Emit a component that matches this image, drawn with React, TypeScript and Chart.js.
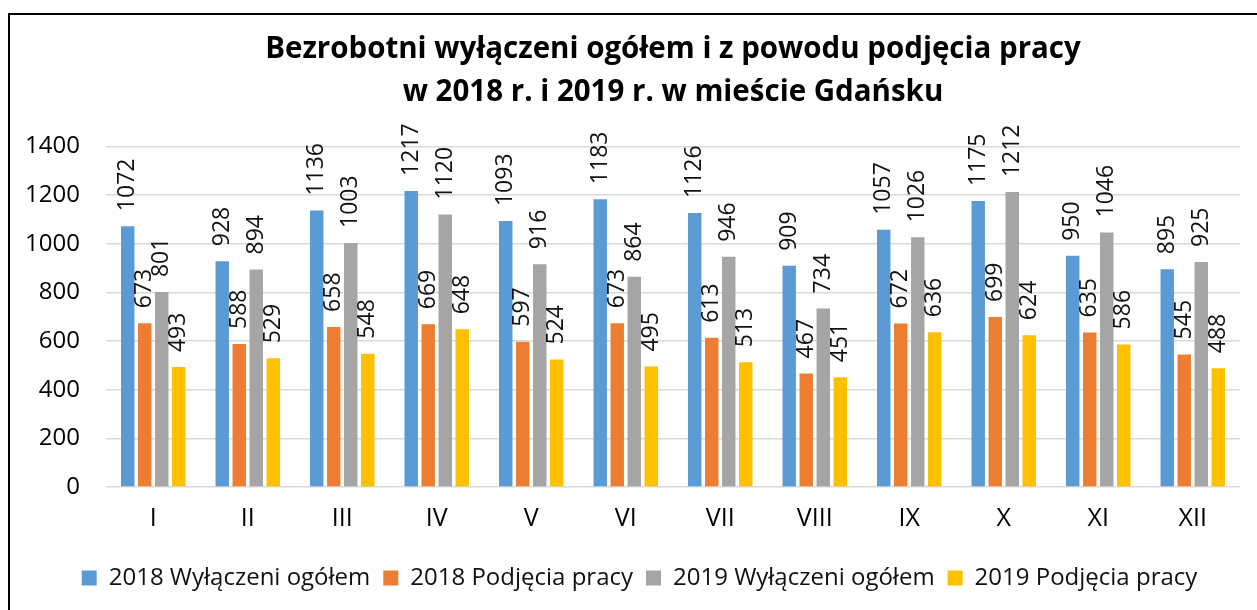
import React, { useEffect, useRef } from "react";
import { Chart, registerables } from "chart.js";

Chart.register(...registerables);

const categories = ["I", "II", "III", "IV", "V", "VI", "VII", "VIII", "IX", "X", "XI", "XII"];
const seriesNames = [
  "2018 Wyłączeni ogółem",
  "2018 Podjęcia pracy",
  "2019 Wyłączeni ogółem",
  "2019 Podjęcia pracy",
];
const wylaczeni2018 = [1072, 928, 1136, 1217, 1093, 1183, 1126, 909, 1057, 1175, 950, 895];
const podjecia2018 = [673, 588, 658, 669, 597, 673, 613, 467, 672, 699, 635, 545];
const wylaczeni2019 = [801, 894, 1003, 1120, 916, 864, 946, 734, 1026, 1212, 1046, 925];
const podjecia2019 = [493, 529, 548, 648, 524, 495, 513, 451, 636, 624, 586, 488];
const colors = ["#5B9BD5", "#ED7D31", "#A5A5A5", "#FFC000"];
const titleLines = [
  "Bezrobotni wyłączeni ogółem i z powodu podjęcia pracy",
  "w 2018 r. i 2019 r. w mieście Gdańsku",
];
const FONT = "'Open Sans', 'Noto Sans', sans-serif";

const valueLabels = {
  id: "valueLabels",
  afterDatasetsDraw(chart: any) {
    const ctx = chart.ctx;
    ctx.save();
    ctx.font = `23px ${FONT}`;
    ctx.fillStyle = "#111";
    ctx.textAlign = "left";
    ctx.textBaseline = "middle";
    chart.data.datasets.forEach((ds: any, di: number) => {
      const meta = chart.getDatasetMeta(di);
      meta.data.forEach((bar: any, i: number) => {
        ctx.save();
        ctx.translate(bar.x, bar.y - 15);
        ctx.rotate(-Math.PI / 2);
        ctx.fillText(String(ds.data[i]), 0, 0);
        ctx.restore();
      });
    });
    ctx.restore();
  },
};

const legendShift = {
  id: "legendShift",
  afterLayout(chart: any) {
    const lg = chart.legend;
    if (lg) {
      lg.left += 7;
      lg.right += 7;
    }
  },
};

export default function App() {
  const ref = useRef<HTMLCanvasElement | null>(null);
  useEffect(() => {
    if (!ref.current) return;
    const data = [wylaczeni2018, podjecia2018, wylaczeni2019, podjecia2019];
    const chart = new Chart(ref.current, {
      type: "bar",
      data: {
        labels: categories,
        datasets: data.map((d, i) => ({
          label: seriesNames[i],
          data: d,
          backgroundColor: colors[i],
          borderWidth: 0,
          categoryPercentage: 0.72,
          barPercentage: 0.79,
        })),
      },
      options: {
        animation: false,
        responsive: true,
        maintainAspectRatio: false,
        layout: { padding: { left: 15, right: 17, top: 0, bottom: 15 } },
        plugins: {
          title: {
            display: true,
            text: titleLines,
            fullSize: false,
            color: "#000",
            font: { family: FONT, size: 29.5, weight: "bold", lineHeight: 1.43 },
            padding: { top: 14, bottom: 33 },
          },
          legend: {
            display: true,
            position: "bottom",
            fullSize: true,
            labels: {
              color: "#111",
              font: { family: FONT, size: 24 },
              boxWidth: 15,
              boxHeight: 15,
              padding: 13,
            },
          },
          tooltip: { enabled: false },
        },
        scales: {
          x: {
            grid: { display: false, drawTicks: false },
            border: { display: false },
            ticks: { color: "#000", font: { family: FONT, size: 25 }, padding: 17, maxRotation: 0 },
            afterFit: (scale: any) => {
              scale.height = 66;
            },
          },
          y: {
            min: 0,
            max: 1400,
            ticks: {
              stepSize: 200,
              color: "#000",
              font: { family: FONT, size: 24 },
              padding: 26,
              callback: (v: any) => String(v),
            },
            grid: { color: "#d9d9d9", lineWidth: 1.5, drawTicks: false },
            border: { display: false },
            afterFit: (scale: any) => {
              scale.width = 81;
            },
          },
        },
      },
      plugins: [valueLabels, legendShift],
    });
    return () => chart.destroy();
  }, []);

  return (
    <div style={{ position: "fixed", inset: 0, overflow: "hidden", background: "#fff" }}>
      <div
        style={{
          position: "absolute",
          left: 8,
          top: 13,
          width: 1400,
          height: 800,
          border: "2px solid #000",
          boxSizing: "border-box",
        }}
      />
      <div style={{ position: "absolute", left: 10, top: 15, width: 1247, height: 600 }}>
        <canvas ref={ref} />
      </div>
    </div>
  );
}
